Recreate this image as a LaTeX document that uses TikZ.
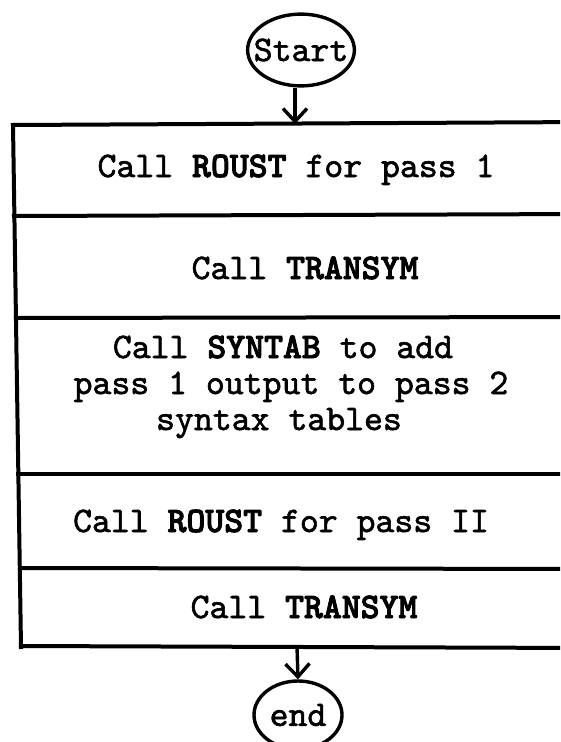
\documentclass[tikz,border=0pt]{standalone}
\usepackage{fontspec}
\newfontfamily\twr{lmmono10-regular.otf}[FakeBold=1.6]
\newfontfamily\twb{lmmonolt10-bold.otf}[FakeBold=2.4]
\usetikzlibrary{arrows.meta,shapes.geometric}
\begin{document}
\begin{tikzpicture}[x=1pt,y=-1pt,
  frame/.style={line width=4pt, line cap=rect},
  lbl/.style={anchor=base, inner sep=0pt, font=\twr\fontsize{36}{37}\selectfont},
  oval/.style={draw, ellipse, line width=3.4pt, font=\twr\fontsize{36}{37}\selectfont},
  arr/.style={line width=3.4pt, -{Straight Barb[length=13pt,width=24pt,line width=3.4pt]}}]
\clip (0,0) rectangle (560,742);
\fill[white] (0,0) rectangle (560,742);
% frame
\draw[frame] (13,125) -- (21,647);
\draw[frame] (13,125) -- (590,122);
\draw[frame] (14,216) -- (590,214);
\draw[frame] (16,318) -- (590,317);
\draw[frame] (18,474) -- (590,474);
\draw[frame] (20,568) -- (590,569);
\draw[frame] (21,646) -- (590,648);
% texts
\node[lbl] (t1) at (296,177) {Call {\twb ROUST} for pass 1};
\node[lbl] (t2) at (305,279) {Call {\twb TRANSYM}};
\node[lbl] (t3a) at (283,358) {Call {\twb SYNTAB} to add};
\node[lbl] (t3b) at (291,394) {pass 1 output to pass 2};
\node[lbl] (t3c) at (279,430) {syntax tables};
\node[lbl] (t4) at (281,532) {Call {\twb ROUST} for pass II};
\node[lbl] (t5) at (304,618) {Call {\twb TRANSYM}};
% terminals
\node[oval, inner xsep=-9.5pt, inner ysep=14pt] (start) at (301,50) {Start};
\node[oval, inner sep=0pt, minimum width=88pt, minimum height=68pt] (end) at (298,715) {end};
\coordinate (in1) at (295,124);
\coordinate (out1) at (297,646);
\draw[arr] (start.south -| in1) -- (in1);
\draw[arr] (out1) -- (end.north);
\end{tikzpicture}
\end{document}
